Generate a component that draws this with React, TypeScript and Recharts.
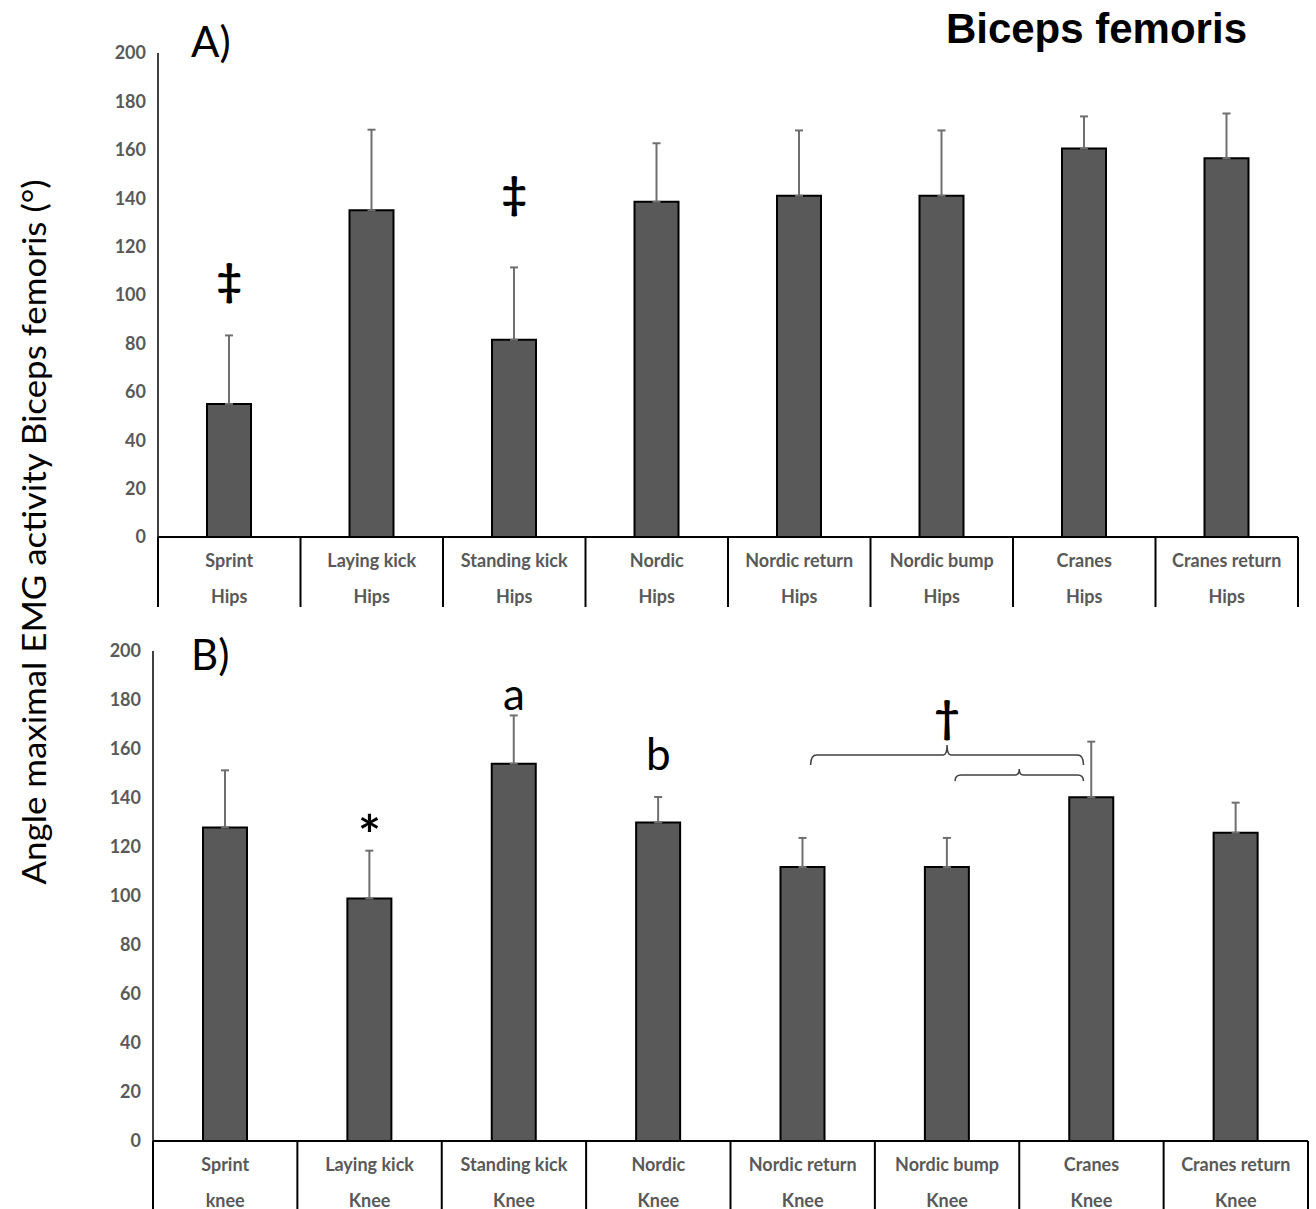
import React from 'react';
import { BarChart, Bar, XAxis, YAxis, ErrorBar, ReferenceDot, ReferenceLine } from 'recharts';

// ---------- data ----------
const exercises = ['Sprint', 'Laying kick', 'Standing kick', 'Nordic', 'Nordic return', 'Nordic bump', 'Cranes', 'Cranes return'];
const jointsA = ['Hips', 'Hips', 'Hips', 'Hips', 'Hips', 'Hips', 'Hips', 'Hips'];
const jointsB = ['knee', 'Knee', 'Knee', 'Knee', 'Knee', 'Knee', 'Knee', 'Knee'];
const meansA = [55, 135, 81.5, 138.5, 141, 141, 160.5, 156.5];
const sdA = [28.3, 33.3, 29.9, 24.2, 27, 27, 13.3, 18.5];
const meansB = [128, 99, 154, 130, 111.8, 111.8, 140.3, 125.8];
const sdB = [23.3, 19.5, 19.7, 10.4, 11.9, 11.9, 22.7, 12.3];
const yTicks = [0, 20, 40, 60, 80, 100, 120, 140, 160, 180, 200];

const annotA = [
  { cat: 'Sprint', y: 99.6, text: '‡' },
  { cat: 'Standing kick', y: 135.5, text: '‡' },
];
const annotB = [
  { cat: 'Laying kick', y: 117, text: '*' },
  { cat: 'Standing kick', y: 176, text: 'a' },
  { cat: 'Nordic', y: 151.4, text: 'b' },
  { cat: 'Nordic bump', y: 166.5, text: '†' },
];
const bracesB = [
  { from: 'Nordic return', to: 'Cranes', y: 157.6, depth: 10 },
  { from: 'Nordic bump', to: 'Cranes', y: 149.4, depth: 6 },
];

const title = 'Biceps femoris';
const yTitle = 'Angle maximal EMG activity Biceps femoris (°)';

const dataA = exercises.map((name, i) => ({ name, joint: jointsA[i], mean: meansA[i], err: [0, sdA[i]] }));
const dataB = exercises.map((name, i) => ({ name, joint: jointsB[i], mean: meansB[i], err: [0, sdB[i]] }));

// ---------- styling ----------
const FONT = 'Lato, "Open Sans", sans-serif';
const GRAY = '#595959';
const W = 1316;

const makeTick = (data: any[], band: number, lineLen: number) => (props: any) => {
  const { x, y, payload, index } = props;
  const row = data[index] || data.find((d) => d.name === payload.value);
  return (
    <g>
      <line x1={x - band / 2} y1={y} x2={x - band / 2} y2={y + lineLen} stroke="#000" strokeWidth={2} />
      {index === data.length - 1 && (
        <line x1={x + band / 2} y1={y} x2={x + band / 2} y2={y + lineLen} stroke="#000" strokeWidth={2} />
      )}
      <text x={x} y={y + 30} textAnchor="middle" fill={GRAY} fontFamily={FONT} fontWeight="bold" fontSize={18}>
        {payload.value}
      </text>
      <text x={x} y={y + 66} textAnchor="middle" fill={GRAY} fontFamily={FONT} fontWeight="bold" fontSize={18}>
        {row ? row.joint : ''}
      </text>
    </g>
  );
};

const annotShape = (text: string) => (p: any) => {
  const isSym = text === '‡' || text === '†';
  const isStar = text === '*';
  return (
    <text
      x={p.cx}
      y={p.cy}
      textAnchor="middle"
      fontFamily={FONT}
      fontWeight={isSym || isStar ? 'bold' : 'normal'}
      fontSize={isStar ? 54 : 44}
      fill="#000"
    >
      {text}
    </text>
  );
};

const braceShape = (depth: number) => (p: any) => {
  const { x1, y1, x2 } = p;
  const inset = 8;
  const l = Math.min(x1, x2) + inset;
  const r = Math.max(x1, x2) - inset;
  const m = (l + r) / 2;
  const y = y1;
  const d = `M${l},${y + depth} Q${l},${y} ${l + 6},${y} L${m - 4},${y} Q${m},${y} ${m},${y - depth} Q${m},${y} ${m + 4},${y} L${r - 6},${y} Q${r},${y} ${r},${y + depth}`;
  return <path d={d} fill="none" stroke="#404040" strokeWidth={1.5} />;
};

type PanelProps = {
  data: any[];
  annots: { cat: string; y: number; text: string }[];
  braces: { from: string; to: string; y: number; depth: number }[];
  height: number;
  margin: { top: number; right: number; bottom: number; left: number };
  xHeight: number;
  lineLen: number;
};

const Panel = ({ data, annots, braces, height, margin, xHeight, lineLen }: PanelProps) => {
  const yAxisW = 60;
  const plotW = W - margin.left - margin.right - yAxisW;
  const band = plotW / data.length;
  return (
    <BarChart width={W} height={height} data={data} margin={margin} barCategoryGap={0}>
      <XAxis
        dataKey="name"
        height={xHeight}
        interval={0}
        tickLine={false}
        tickSize={0}
        tickMargin={0}
        axisLine={{ stroke: '#000', strokeWidth: 2 }}
        tick={makeTick(data, band, lineLen)}
      />
      <YAxis
        width={yAxisW}
        domain={[0, 200]}
        ticks={yTicks}
        interval={0}
        tickLine={false}
        tickSize={0}
        tickMargin={12}
        axisLine={{ stroke: '#000', strokeWidth: 1.5 }}
        tick={{ fill: GRAY, fontFamily: FONT, fontWeight: 'bold', fontSize: 18 }}
      />
      <Bar dataKey="mean" fill={GRAY} stroke="#000" strokeWidth={2} barSize={44} isAnimationActive={false}>
        <ErrorBar dataKey="err" width={4} stroke="#6f6f6f" strokeWidth={2} direction="y" />
      </Bar>
      {braces.map((b, i) => (
        <ReferenceLine
          key={'br' + i}
          segment={[{ x: b.from, y: b.y }, { x: b.to, y: b.y }]}
          shape={braceShape(b.depth)}
          ifOverflow="visible"
        />
      ))}
      {annots.map((a, i) => (
        <ReferenceDot key={'an' + i} x={a.cat} y={a.y} r={1} shape={annotShape(a.text)} ifOverflow="visible" />
      ))}
    </BarChart>
  );
};

export default function App() {
  return (
    <div style={{ position: 'absolute', left: 0, top: 0, width: W, height: 1209, background: '#fff', overflow: 'hidden' }}>
      <div style={{ position: 'absolute', left: 0, top: 0 }}>
        <Panel
          data={dataA}
          annots={annotA}
          braces={[]}
          height={610}
          margin={{ top: 53, right: 18, bottom: 3, left: 98 }}
          xHeight={70}
          lineLen={70}
        />
      </div>
      <div style={{ position: 'absolute', left: 0, top: 598 }}>
        <Panel
          data={dataB}
          annots={annotB}
          braces={bracesB}
          height={611}
          margin={{ top: 53, right: 8, bottom: 0, left: 93 }}
          xHeight={68}
          lineLen={70}
        />
      </div>
      <svg width={W} height={1209} style={{ position: 'absolute', left: 0, top: 0, pointerEvents: 'none' }}>
        <text x={1247} y={43} textAnchor="end" fontFamily='"Liberation Sans", Arial, sans-serif' fontWeight="bold" fontSize={42} fill="#000">
          {title}
        </text>
        <text x={191} y={57} fontFamily={FONT} fontSize={42} fill="#000">A)</text>
        <text x={191} y={670} fontFamily={FONT} fontSize={42} fill="#000">B)</text>
        <text
          x={0}
          y={0}
          transform="translate(46,532) rotate(-90)"
          textAnchor="middle"
          fontFamily={FONT}
          fontSize={32}
          textLength={705}
          lengthAdjust="spacingAndGlyphs"
          fill="#000"
        >
          {yTitle}
        </text>
      </svg>
    </div>
  );
}
